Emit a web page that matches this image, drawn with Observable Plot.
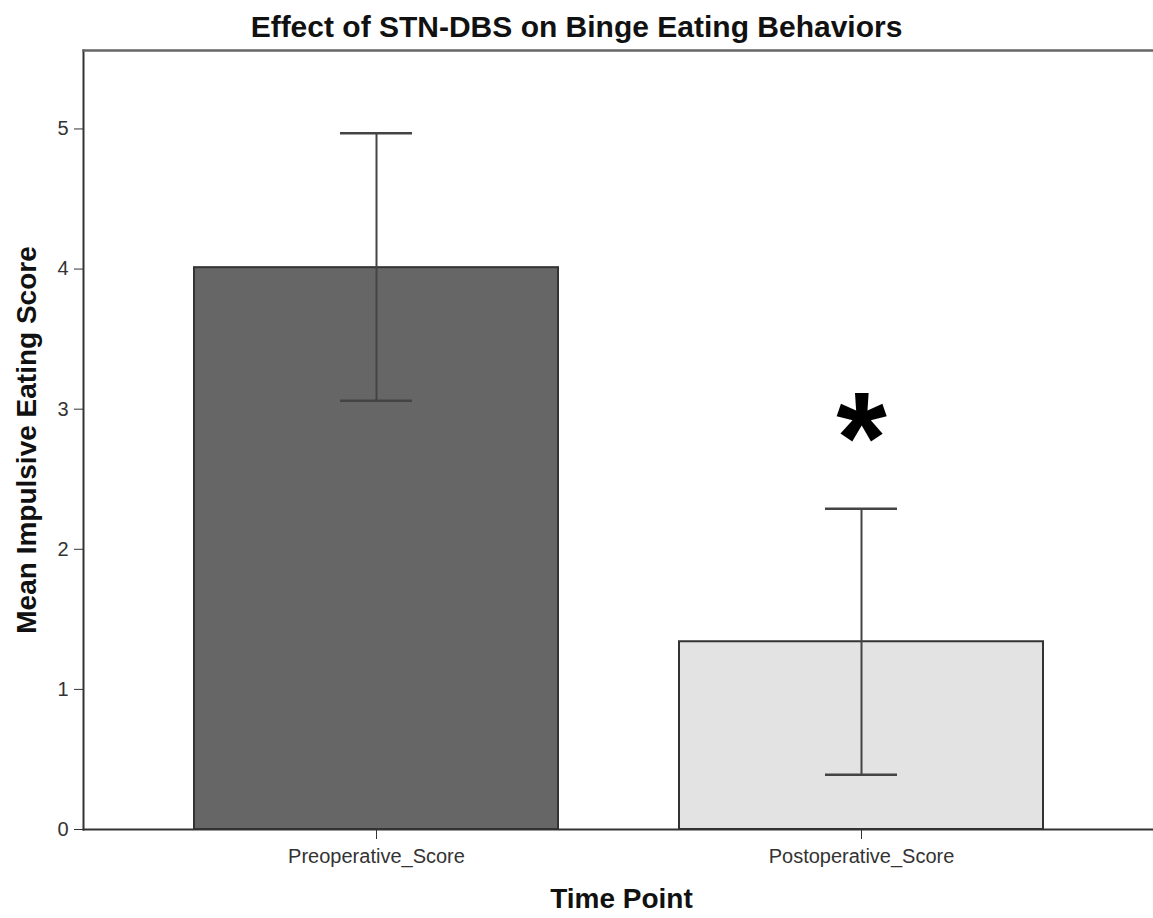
<!DOCTYPE html>
<html>
<head>
<meta charset="utf-8">
<script src="https://cdn.jsdelivr.net/npm/d3@7"></script>
<script src="https://cdn.jsdelivr.net/npm/@observablehq/plot@0.6"></script>
<style>
  html, body { margin: 0; padding: 0; background: #fff; }
  #title { height: 40px; padding-top: 7px; text-align: center; font-family: "Liberation Sans", Arial, sans-serif; font-weight: bold; font-size: 30px; line-height: 40px; color: #111; white-space: nowrap; }
  #chart svg { display: block; }
</style>
</head>
<body>
<div id="title">Effect of STN-DBS on Binge Eating Behaviors</div>
<div id="chart"></div>
<script>
const categories = ["Preoperative_Score", "Postoperative_Score"];
const means = [4.01, 1.34];
const lower = [3.06, 0.39];
const upper = [4.97, 2.29];
const barFills = ["#666666", "#e3e3e3"];
const sigMarks = ["", "*"];
const sigY = [null, 2.94];
const yTicks = [0, 1, 2, 3, 4, 5];
const yMax = 5.56;
const yLabel = "Mean Impulsive Eating Score";
const xLabel = "Time Point";

const data = categories.map((c, i) => ({
  cat: c, mean: means[i], lo: lower[i], hi: upper[i], fill: barFills[i], sig: sigMarks[i], sy: sigY[i]
}));
const sigData = data.filter(d => d.sig);

const chart = Plot.plot({
  width: 1153,
  height: 871,
  marginTop: 3,
  marginLeft: 83,
  marginRight: 0,
  marginBottom: 89,
  style: { fontFamily: "'Liberation Sans', Arial, sans-serif", fontSize: "20px", color: "#333", background: "#fff" },
  x: { domain: categories, paddingInner: 0.25, paddingOuter: 0.228, label: null },
  y: { domain: [0, yMax], label: null },
  color: { type: "identity" },
  marks: [
    Plot.barY(data, { x: "cat", y: "mean", fill: "fill", stroke: "#333", strokeWidth: 2 }),
    Plot.ruleX(data, { x: "cat", y1: "lo", y2: "hi", stroke: "#444", strokeWidth: 2 }),
    Plot.tickY(data, { x: "cat", y: "lo", stroke: "#444", strokeWidth: 2.5, insetLeft: 146, insetRight: 146 }),
    Plot.tickY(data, { x: "cat", y: "hi", stroke: "#444", strokeWidth: 2.5, insetLeft: 146, insetRight: 146 }),
    Plot.text(sigData, { x: "cat", y: "sy", text: "sig", fontSize: 130, fontWeight: "bold", fill: "#000", dy: 24 }),
    Plot.axisY({ ticks: yTicks, tickFormat: d3.format("d"), tickSize: 9, tickPadding: 6, fontSize: 20, label: null, stroke: "#333" }),
    Plot.axisX({ tickSize: 10, tickPadding: 9, fontSize: 20, label: null, stroke: "#333" }),
    Plot.frame({ anchor: "left", stroke: "#333", strokeWidth: 2 }),
    Plot.frame({ anchor: "top", stroke: "#666", strokeWidth: 2.5 }),
    Plot.frame({ anchor: "bottom", stroke: "#333", strokeWidth: 2 }),
    Plot.text([yLabel], { text: d => d, frameAnchor: "left", textAnchor: "middle", rotate: -90, dx: -56, fontSize: 28, fontWeight: "bold", fill: "#111" }),
    Plot.text([xLabel], { text: d => d, frameAnchor: "bottom", textAnchor: "middle", dy: 78, dx: 3, fontSize: 28, fontWeight: "bold", fill: "#111" })
  ]
});
document.getElementById("chart").appendChild(chart);
</script>
</body>
</html>
